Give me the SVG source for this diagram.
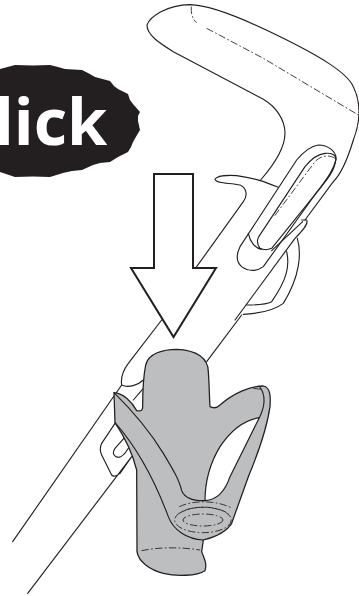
<svg xmlns="http://www.w3.org/2000/svg" width="359" height="596" viewBox="0 0 359 596">
<style>
.l{fill:none;stroke:#231f20;stroke-width:3.4;stroke-linecap:round;stroke-linejoin:round}
.d{fill:none;stroke:#231f20;stroke-width:2.6;stroke-dasharray:22 7 5 7}
.g{fill:#bcbec0;stroke:#231f20;stroke-width:3.8;stroke-linejoin:round}
.w{fill:#fff;stroke:#231f20;stroke-width:3.4;stroke-linejoin:round}
</style>
<rect width="359" height="596" fill="#fff"/>
<g id="stroller" transform="scale(0.33333)">
<path class="l" d="M782,540C830,485 855,440 855,400C855,360 830,322 790,298L520,155C480,130 440,105 441,75C450,50 500,15 570,14C640,15 780,80 850,115C950,165 1040,215 1060,260C1085,310 1080,370 1060,420C1045,470 1025,520 1000,545L915,660"/>
<path class="d" d="M574,20C572,40 578,58 590,68M620,85L790,175L1075,345"/>
<path class="l" d="M835,562C800,548 770,535 710,527C680,525 650,528 645,538C650,552 690,548 720,555C738,562 745,585 730,605L590,800"/>
<path class="l" d="M905,660L920,660C925,670 915,685 885,715L705,960"/>
<path class="l" d="M892,715C905,760 900,830 850,910C830,925 790,940 730,943M860,755C870,800 860,840 815,905C795,915 770,915 740,915"/>
<path class="w" d="M955,435C985,435 1008,455 1008,475C1005,510 985,535 955,570L790,800C770,815 745,815 725,800C708,785 708,765 720,740L890,480C915,450 935,438 955,435Z"/>
<path class="l" d="M975,460C995,458 1008,465 1008,478C1000,510 985,530 960,565L815,745C800,752 790,750 780,745C772,735 770,725 775,712L915,500C935,475 955,462 975,460ZM745,700C750,725 765,745 785,748M908,665L815,752"/>
<path class="d" d="M1005,475C985,462 960,468 945,485L822,650"/>
</g>
<g id="click">
<path fill="#231f20" d="M0,69L15,65L33,65.500L50,65L58,67L65,69L82,70L88,73L95,77L110,81L114,86L118,89L128,94L130,100L133,104L140,112L138,116L138,121L140,130L137,135L133,142L131,147L128,152L118,157L110,162L100,163L93,165L82,170L72,171L63,173L50,177L33,176.500L15,177L0,172Z"/>
<text x="-6" y="144.500" font-family="'Open Sans', Lato, sans-serif" font-weight="700" font-size="65" fill="#fff">lick</text>
</g>
<g id="arrow">
<path fill="#fff" stroke="#231f20" stroke-width="2" stroke-miterlimit="10" d="M154,174H193V268H216L173.500,337L131,268H154Z"/>
</g>
<g id="frame" transform="translate(0,300) scale(0.33333)">
<path class="l" d="M485,60L385,190C370,210 362,235 365,255L38,725M725,45L620,185M430,240C415,255 385,265 365,255M430,265L400,300M345,370L305,430C298,445 300,455 305,465L335,525C340,530 350,528 360,520L395,470L83,880M385,400L345,445C335,460 342,470 355,472C365,472 375,462 385,445"/>
</g>
<g id="holder" transform="translate(0,300) scale(0.33333)">
<path class="g" d="M410,332C425,335 428,330 428,320C428,270 430,230 437,195C445,160 490,148 530,148C590,150 625,175 625,215C628,260 628,290 630,320C640,325 650,325 660,315C700,280 750,258 790,258C812,262 812,290 810,320C800,390 770,470 745,530L695,670C680,695 640,712 610,720L605,755C612,775 622,790 615,812C590,828 530,830 490,820C450,810 415,785 411,755L410,510C400,470 380,420 345,368L342,278C370,280 395,305 410,332Z"/>
<path fill="#fff" stroke="#231f20" stroke-width="3.6" stroke-linejoin="round" d="M778,353C730,360 690,395 660,440C630,490 615,540 615,602C650,600 675,575 690,530L778,353Z"/>
<path class="l" d="M342,278C400,335 450,395 490,460C520,510 538,540 545,572C555,595 580,603 615,602"/>
<path class="l" d="M345,368C400,430 460,530 505,650C520,690 560,718 610,720"/>
<path class="l" d="M778,353C795,320 798,285 780,262"/>
<path class="d" d="M760,265L785,268M425,752C480,740 550,742 600,750"/>
<ellipse class="d" cx="609" cy="660" rx="85" ry="38"/>
<ellipse class="d" cx="609" cy="660" rx="60" ry="18"/>
<path class="d" d="M538,640C580,615 640,615 685,640M538,620C580,600 650,600 697,625"/>
</g>
</svg>
